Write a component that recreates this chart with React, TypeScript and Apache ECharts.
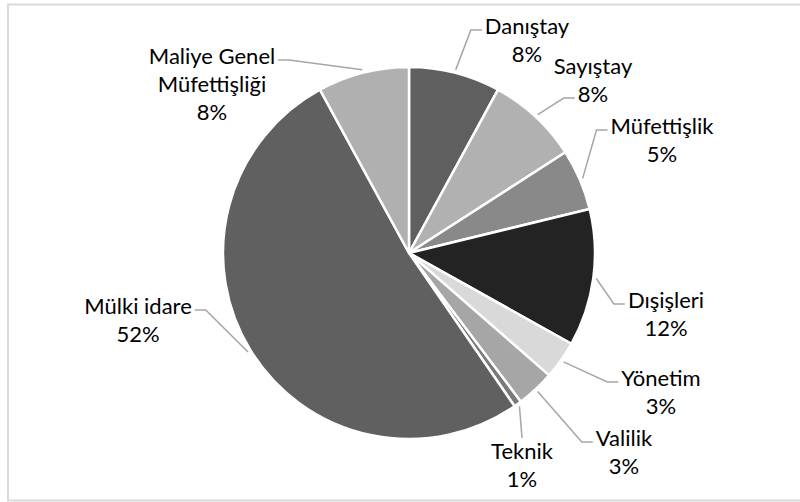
import React, { useEffect, useRef } from "react";
import * as echarts from "echarts";

const categories = [
  "Danıştay",
  "Sayıştay",
  "Müfettişlik",
  "Dışişleri",
  "Yönetim",
  "Valilik",
  "Teknik",
  "Mülki idare",
  "Maliye Genel Müfettişliği",
];
const values = [12, 12, 8, 18, 5, 5, 1, 78, 12];
const sliceColors = [
  "#5f5f5f",
  "#b1b1b1",
  "#898989",
  "#232323",
  "#d9d9d9",
  "#a6a6a6",
  "#7a7a7a",
  "#606060",
  "#b0b0b0",
];
// label block centres (layout only)
const labelCentres: [number, number][] = [
  [527, 39],
  [593, 79],
  [662, 139],
  [666, 313],
  [661, 391],
  [624, 451],
  [522, 464],
  [138, 319],
  [212, 83],
];

const CX = 409;
const CY = 253;
const R = 186;
const FONT_SIZE = 22;
const LINE_H = 28;
const FONT_FAMILY = "Lato";

function labelText(name: string, pct: number) {
  const n = name.length > 16 ? name.replace(/ (?=[^ ]*$)/, "\n") : name;
  return `${n}\n${pct}%`;
}

export default function App() {
  const ref = useRef<HTMLDivElement>(null);
  useEffect(() => {
    document.body.style.margin = "0";
    const chart = echarts.init(ref.current!, null, { renderer: "svg" });
    const total = values.reduce((a, b) => a + b, 0);
    const midAngles: number[] = [];
    let cum = 0;
    values.forEach((v) => {
      midAngles.push(((cum + v / 2) / total) * Math.PI * 2);
      cum += v;
    });
    const canvas = document.createElement("canvas");
    const ctx = canvas.getContext("2d")!;
    ctx.font = `${FONT_SIZE}px ${FONT_FAMILY}`;

    // leader lines derived from slice mid-angles and label text extents
    const leaders = categories.map((name, i) => {
      const [lx, ly] = labelCentres[i];
      const th = midAngles[i];
      const p0 = [CX + (R + 3) * Math.sin(th), CY - (R + 3) * Math.cos(th)];
      const lines = labelText(name, Math.round((values[i] / total) * 100)).split("\n");
      const widths = lines.map((l) => ctx.measureText(l).width);
      const maxW = Math.max(...widths);
      const h = lines.length * LINE_H;
      const top = ly - h / 2;
      const bottom = ly + h / 2;
      let pts: number[][];
      if (p0[0] < lx - maxW / 2 || p0[0] > lx + maxW / 2) {
        const leftSide = p0[0] < lx;
        let best: number[] = [];
        let bestD = Infinity;
        lines.forEach((_, li) => {
          const y = top + LINE_H * li + LINE_H / 2 + 5;
          const ax = leftSide ? lx - widths[li] / 2 - 3 : lx + widths[li] / 2 + 3;
          const d = Math.hypot(ax - p0[0], y - p0[1]);
          if (d < bestD) {
            bestD = d;
            best = [ax, y];
          }
        });
        const [ax, y] = best;
        pts = [p0, [leftSide ? ax - 11 : ax + 11, y], [ax, y]];
      } else {
        const ay = p0[1] < ly ? top + 2 : bottom + 2;
        pts = [p0, [lx, ay]];
      }
      return {
        type: "polyline",
        z: 10,
        shape: { points: pts },
        style: { fill: "none", stroke: "#a6a6a6", lineWidth: 1.5 },
      };
    });

    const data = categories.map((name, i) => ({
      name,
      value: values[i],
      itemStyle: { color: sliceColors[i] },
    }));

    chart.setOption({
      animation: false,
      backgroundColor: "#ffffff",
      graphic: [
        {
          type: "rect",
          z: -1,
          shape: { x: 8, y: 4.5, width: 800, height: 496 },
          style: { fill: "none", stroke: "#d9d9d9", lineWidth: 2 },
        },
        ...leaders,
      ],
      series: [
        {
          type: "pie",
          center: [CX, CY],
          radius: R,
          startAngle: 90,
          clockwise: true,
          avoidLabelOverlap: false,
          itemStyle: { borderColor: "#ffffff", borderWidth: 2.5 },
          label: {
            show: true,
            position: "outside",
            fontFamily: FONT_FAMILY,
            fontSize: FONT_SIZE,
            lineHeight: LINE_H,
            color: "#000000",
            align: "center",
            formatter: (p: any) => labelText(p.name, Math.round(p.percent)),
          },
          labelLine: { show: false },
          labelLayout: (params: any) => {
            const [lx, ly] = labelCentres[params.dataIndex];
            return { x: lx, y: ly, align: "center", verticalAlign: "middle" };
          },
          emphasis: { disabled: true },
          data,
        },
      ],
    });
    return () => chart.dispose();
  }, []);
  return <div ref={ref} style={{ width: 800, height: 502 }} />;
}
